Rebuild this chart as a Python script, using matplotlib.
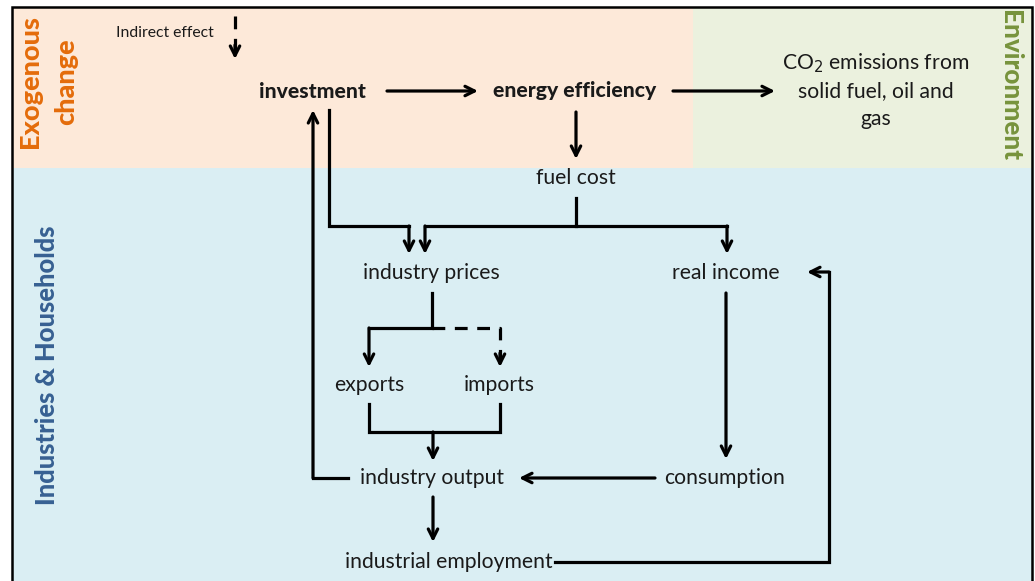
import matplotlib.pyplot as plt
from matplotlib.patches import Rectangle

W, H = 1035, 581

# nodes of the diagram (label, centre x, centre y in picture pixels)
node_names = ["investment", "energy efficiency", "fuel cost", "industry prices",
              "real income", "exports", "imports", "industry output",
              "consumption", "industrial employment"]
node_x = [312, 575, 576, 431, 726, 369, 499, 432, 725, 449]
node_y = [91, 91, 178, 273, 273, 385, 385, 478, 478, 562]
bold_nodes = ["investment", "energy efficiency"]

co2_lines = ["CO$_2$ emissions from", "solid fuel, oil and", "gas"]

# connectors: polylines, last segment carries the arrow head
solid_links = [
    [(387, 91), (478, 91)],
    [(673, 91), (775, 91)],
    [(576, 112), (576, 159)],
    [(576, 198), (576, 226), (425, 226), (425, 254)],
    [(576, 226), (727, 226), (727, 254)],
    [(329, 110), (329, 226), (409, 226), (409, 254)],
    [(348, 478), (313, 478), (313, 110)],
    [(432, 293), (432, 328), (369, 328), (369, 367)],
    [(369, 404), (369, 432), (500, 432), (500, 404)],
    [(433, 432), (433, 461)],
    [(726, 293), (726, 459)],
    [(655, 478), (519, 478)],
    [(433, 497), (433, 542)],
    [(555, 562), (829, 562), (829, 272), (807, 272)],
]
dashed_links = [
    [(235, 16), (235, 59)],
    [(432, 328), (500, 328), (500, 367)],
]
# segments without an arrow head
plain_links = [[(369, 404), (369, 432), (500, 432), (500, 404)]]

fig = plt.figure(figsize=(W / 100, H / 100), dpi=100)
ax = fig.add_axes([0, 0, 1, 1])
ax.set_xlim(0, W)
ax.set_ylim(H, 0)
ax.axis("off")

# background panels
ax.add_patch(Rectangle((12, 7), 681, 161, facecolor="#fde9d9", edgecolor="none"))
ax.add_patch(Rectangle((693, 7), 339, 161, facecolor="#ebf1de", edgecolor="none"))
ax.add_patch(Rectangle((12, 168), 1020, 420, facecolor="#daeef3", edgecolor="none"))
ax.plot([12, 12, 1032, 1032], [H + 5, 7, 7, H + 5], color="black", lw=1.8,
        solid_joinstyle="miter")

font = "Lato"
lw = 2.3


def head(p0, p1, ls="-"):
    ax.annotate("", xy=p1, xytext=p0,
                arrowprops=dict(arrowstyle="->", lw=lw, color="black",
                                mutation_scale=17, shrinkA=0, shrinkB=0,
                                linestyle=ls))


for pts in solid_links:
    xs = [p[0] for p in pts]
    ys = [p[1] for p in pts]
    if pts in plain_links:
        ax.plot(xs, ys, color="black", lw=lw, solid_joinstyle="miter")
        continue
    ax.plot(xs[:-1], ys[:-1], color="black", lw=lw, solid_joinstyle="miter")
    head(pts[-2], pts[-1])

for pts in dashed_links:
    xs = [p[0] for p in pts]
    ys = [p[1] for p in pts]
    ax.plot(xs, ys, color="black", lw=lw, linestyle=(0, (4, 3)))
    x0, y0 = pts[-2]
    x1, y1 = pts[-1]
    # short solid stub carrying the head
    head((x1, y1 - 14 if y1 > y0 else y1 + 14), (x1, y1))

for name, x, y in zip(node_names, node_x, node_y):
    ax.text(x, y, name, ha="center", va="center", fontsize=15.2, family=font,
            fontweight="black" if name in bold_nodes else "normal", color="#1a1a1a")

for i, line in enumerate(co2_lines):
    ax.text(876, 63 + 28 * i, line, ha="center", va="center", fontsize=15.2,
            family=font, color="#1a1a1a")

ax.text(165, 33, "Indirect effect", ha="center", va="center", fontsize=11.3,
        family=font, color="#1a1a1a")

ax.text(30, 82, "Exogenous", rotation=90, ha="center", va="center",
        fontsize=19.5, family=font, fontweight="black", color="#e46c0a")
ax.text(66, 82, "change", rotation=90, ha="center", va="center",
        fontsize=19.5, family=font, fontweight="black", color="#e46c0a")
ax.text(1010, 86, "Environment", rotation=-90, ha="center", va="center",
        fontsize=18.8, family=font, fontweight="black", color="#77933c")
ax.text(47, 365, "Industries & Households", rotation=90, ha="center", va="center",
        fontsize=18.4, family=font, fontweight="black", color="#376092")

fig.savefig("out.png", dpi=100)
